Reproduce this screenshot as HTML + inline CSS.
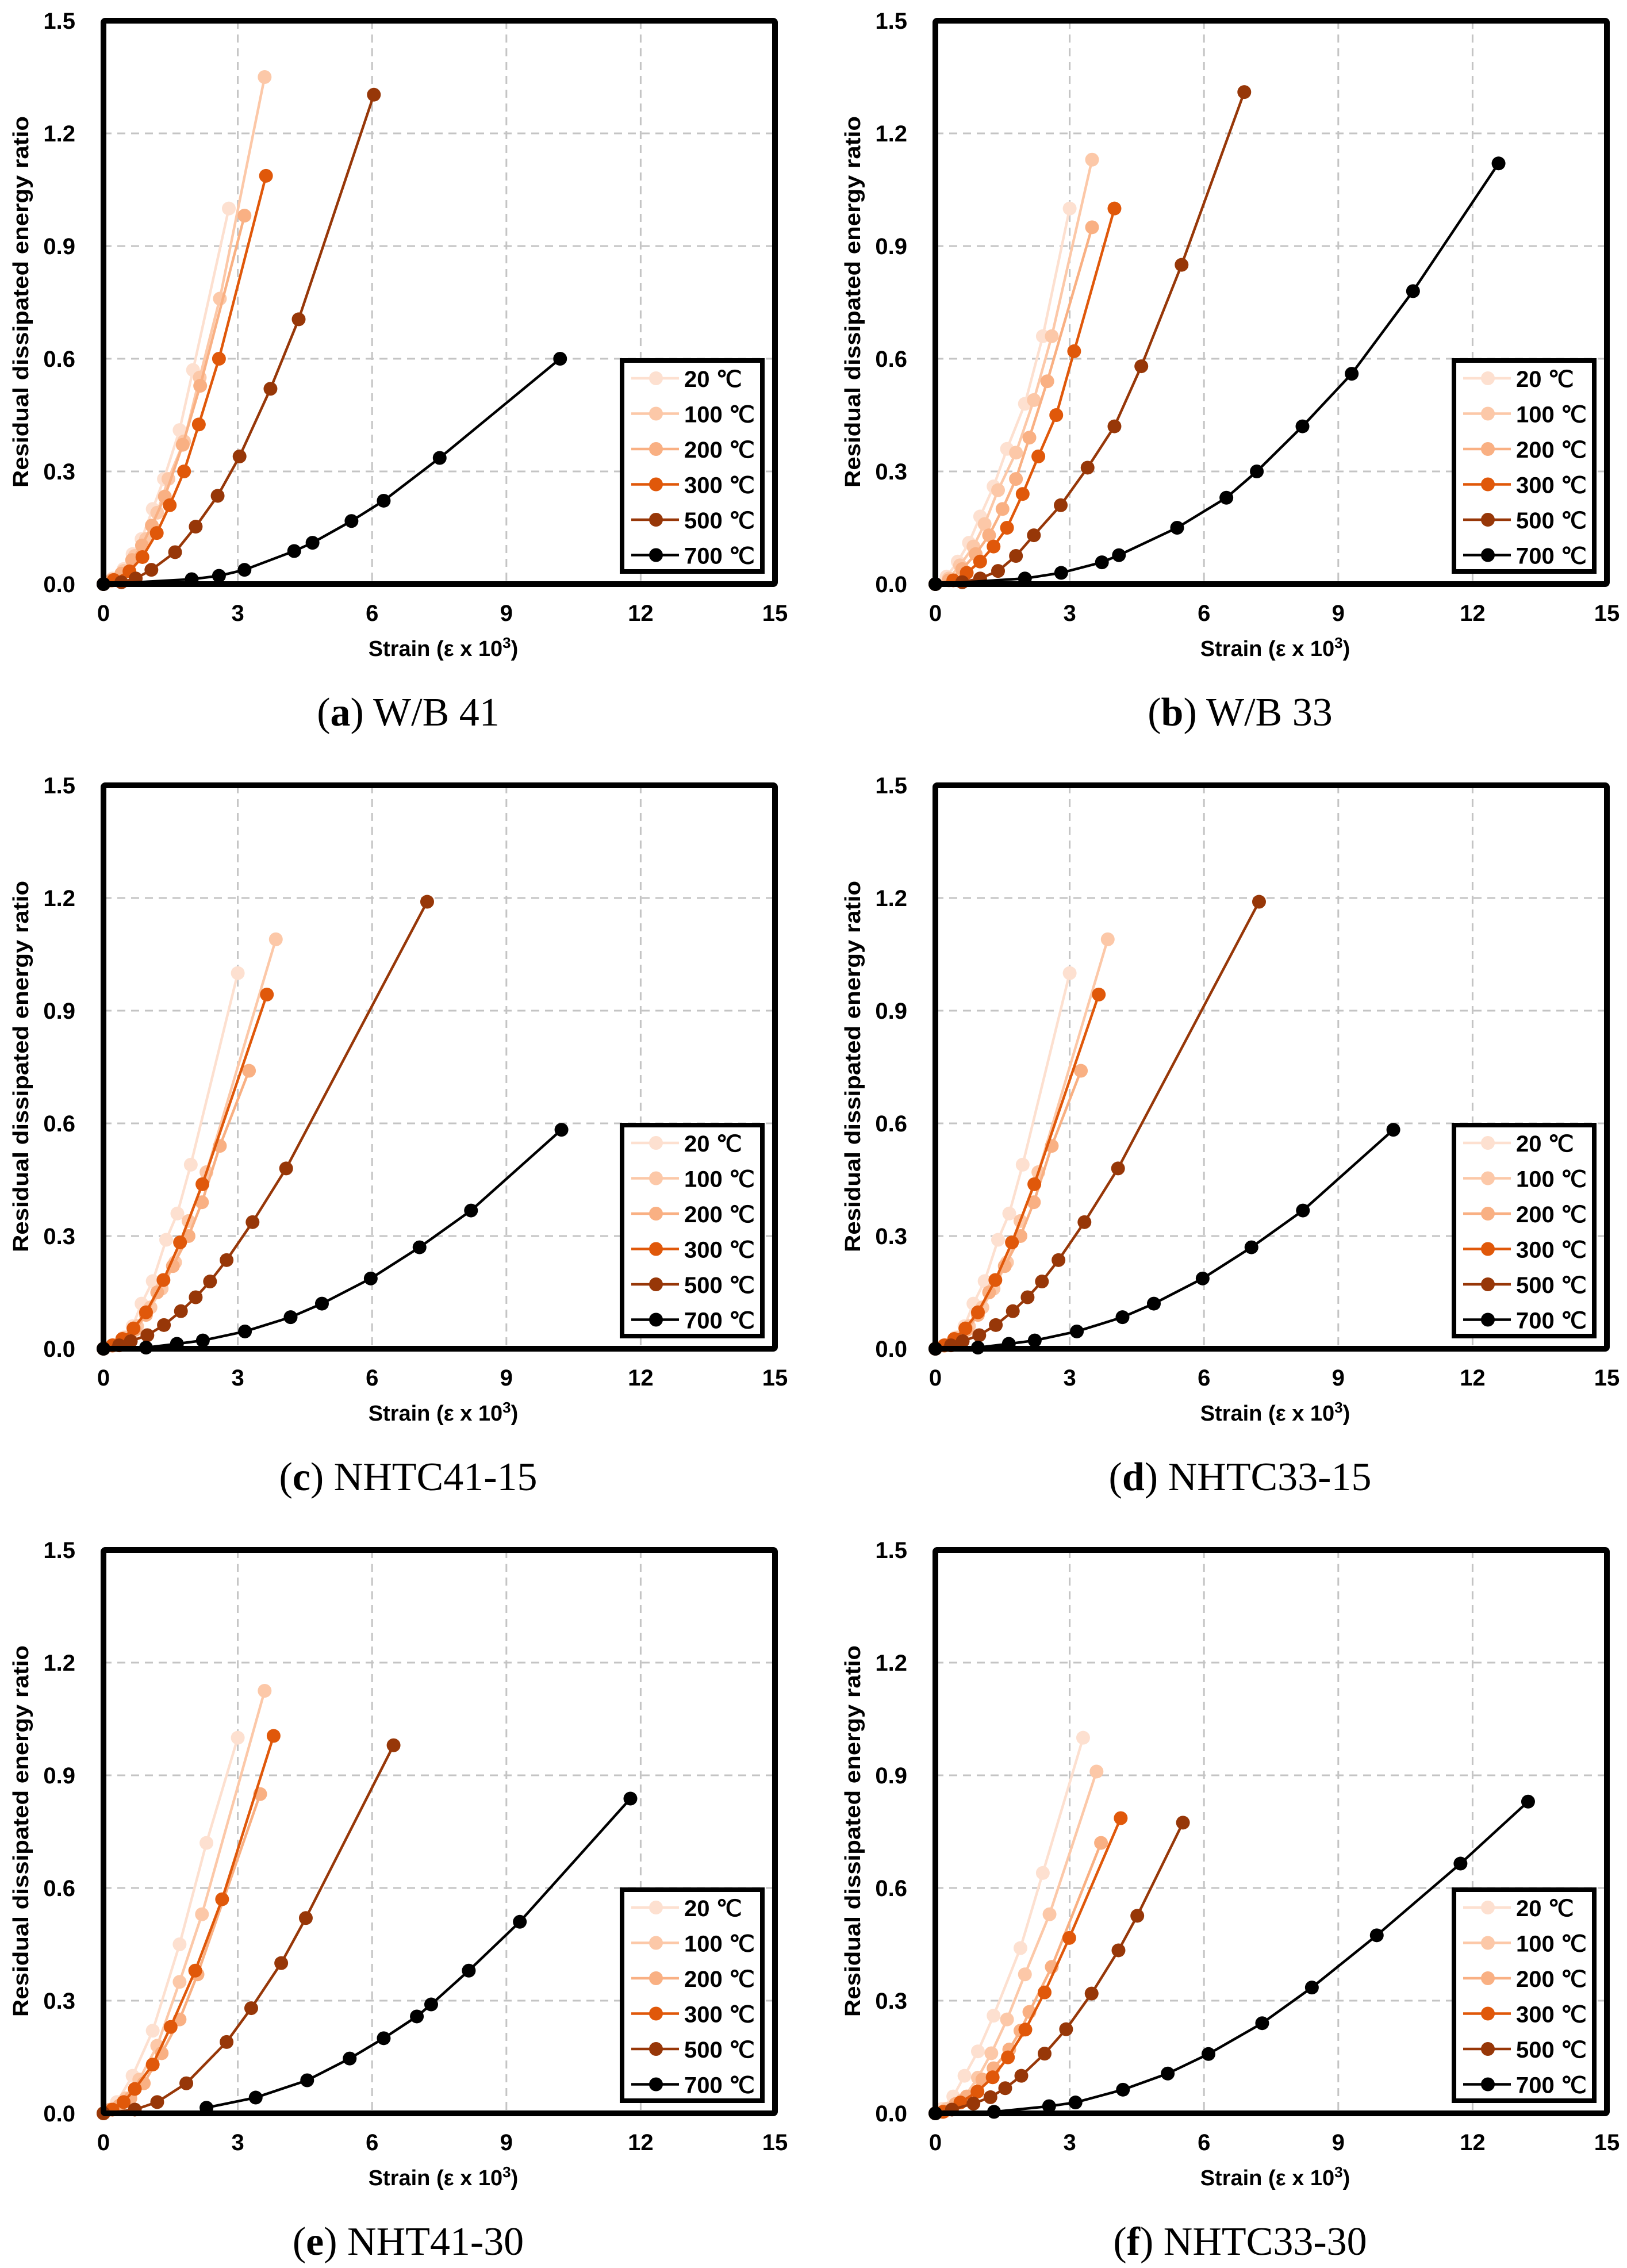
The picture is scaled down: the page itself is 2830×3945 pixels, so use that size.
<!DOCTYPE html>
<html><head><meta charset="utf-8">
<style>
html,body{margin:0;padding:0;background:#fff;}
svg{display:block;}
</style></head>
<body>
<svg id="fig" xmlns="http://www.w3.org/2000/svg" width="2830" height="3945" viewBox="0 0 2830 3945">
<rect x="0" y="0" width="2830" height="3945" fill="#fff"/>
</svg>
<script>
const temps = ["20 ℃","100 ℃","200 ℃","300 ℃","500 ℃","700 ℃"];
const colors = ["#fde0d0","#fcc8a8","#f9b083","#e0580a","#973708","#000000"];
const xTicks = [0,3,6,9,12,15];
const yTicks = [0.0,0.3,0.6,0.9,1.2,1.5];
const yTickLabels = ["0.0","0.3","0.6","0.9","1.2","1.5"];
const captionLetters = ["a","b","c","d","e","f"];
const captionNames = ["W/B 41","W/B 33","NHTC41-15","NHTC33-15","NHT41-30","NHTC33-30"];

// panel (a) W/B 41
const aX20=[0,0.2,0.45,0.65,0.85,1.1,1.35,1.7,2.0,2.8];
const aY20=[0,0.015,0.04,0.08,0.12,0.2,0.28,0.41,0.57,1.0];
const aX100=[0,0.2,0.45,0.7,0.95,1.2,1.45,1.8,2.15,2.6,3.6];
const aY100=[0,0.012,0.035,0.075,0.12,0.19,0.28,0.38,0.55,0.76,1.35];
const aX200=[0,0.17,0.4,0.64,0.86,1.08,1.37,1.77,2.16,3.15];
const aY200=[0,0.009,0.028,0.064,0.103,0.156,0.233,0.371,0.528,0.981];
const aX300=[0,0.23,0.58,0.87,1.19,1.48,1.8,2.13,2.58,3.63];
const aY300=[0,0.011,0.034,0.072,0.136,0.21,0.30,0.425,0.60,1.087];
const aX500=[0,0.4,0.72,1.07,1.6,2.06,2.55,3.04,3.73,4.36,6.04];
const aY500=[0,0.005,0.015,0.038,0.085,0.153,0.235,0.34,0.52,0.705,1.303];
const aX700=[0,1.97,2.58,3.15,4.26,4.67,5.54,6.26,7.51,10.2];
const aY700=[0,0.013,0.022,0.038,0.088,0.11,0.168,0.222,0.336,0.60];
// panel (b) W/B 33
const bX20=[0,0.25,0.5,0.75,1.0,1.3,1.6,2.0,2.4,3.0];
const bY20=[0,0.02,0.06,0.11,0.18,0.26,0.36,0.48,0.66,1.0];
const bX100=[0,0.3,0.55,0.85,1.1,1.4,1.8,2.2,2.6,3.5];
const bY100=[0,0.015,0.05,0.1,0.16,0.25,0.35,0.49,0.66,1.13];
const bX200=[0,0.3,0.6,0.9,1.2,1.5,1.8,2.1,2.5,3.5];
const bY200=[0,0.01,0.04,0.08,0.13,0.2,0.28,0.39,0.54,0.95];
const bX300=[0,0.4,0.7,1.0,1.3,1.6,1.95,2.3,2.7,3.1,4.0];
const bY300=[0,0.01,0.03,0.06,0.1,0.15,0.24,0.34,0.45,0.62,1.0];
const bX500=[0,0.6,1.0,1.4,1.8,2.2,2.8,3.4,4.0,4.6,5.5,6.9];
const bY500=[0,0.005,0.015,0.035,0.075,0.13,0.21,0.31,0.42,0.58,0.85,1.31];
const bX700=[0,2.0,2.81,3.72,4.1,5.4,6.5,7.18,8.2,9.3,10.67,12.58];
const bY700=[0,0.015,0.03,0.058,0.077,0.15,0.23,0.30,0.42,0.56,0.78,1.12];
// panel (c)/(d) NHTC-15
const cX20=[0,0.2,0.45,0.65,0.85,1.1,1.4,1.65,1.95,3.0];
const cY20=[0,0.01,0.03,0.06,0.12,0.18,0.29,0.36,0.49,1.0];
const cX100=[0,0.25,0.5,0.75,1.05,1.3,1.6,1.9,2.3,3.85];
const cY100=[0,0.01,0.03,0.06,0.11,0.16,0.23,0.34,0.47,1.09];
const cX200=[0,0.2,0.45,0.7,0.95,1.2,1.55,1.9,2.2,2.6,3.25];
const cY200=[0,0.008,0.025,0.05,0.09,0.15,0.22,0.3,0.39,0.54,0.74];
const cX300=[0,0.2,0.42,0.67,0.95,1.34,1.71,2.21,3.65];
const cY300=[0,0.009,0.026,0.054,0.097,0.183,0.283,0.438,0.943];
const cX500=[0,0.35,0.61,0.98,1.35,1.73,2.06,2.38,2.75,3.33,4.08,7.23];
const cY500=[0,0.009,0.02,0.036,0.063,0.1,0.137,0.179,0.236,0.337,0.48,1.19];
const cX700=[0,0.95,1.64,2.22,3.16,4.18,4.88,5.97,7.06,8.21,10.23];
const cY700=[0,0.003,0.013,0.022,0.046,0.084,0.12,0.187,0.27,0.368,0.583];
// panel (e) NHT41-30
const eX20=[0,0.3,0.65,1.1,1.7,2.3,3.0];
const eY20=[0,0.03,0.1,0.22,0.45,0.72,1.0];
const eX100=[0,0.2,0.5,0.8,1.2,1.7,2.2,3.6];
const eY100=[0,0.01,0.04,0.09,0.18,0.35,0.53,1.125];
const eX200=[0,0.15,0.35,0.6,0.9,1.3,1.7,2.1,3.5];
const eY200=[0,0.01,0.02,0.04,0.08,0.16,0.25,0.37,0.85];
const eX300=[0,0.2,0.45,0.7,1.1,1.5,2.05,2.65,3.8];
const eY300=[0,0.01,0.03,0.065,0.13,0.23,0.38,0.57,1.005];
const eX500=[0,0.7,1.2,1.85,2.75,3.3,3.97,4.52,6.48];
const eY500=[0,0.01,0.03,0.08,0.19,0.28,0.40,0.52,0.98];
const eX700=[2.3,3.4,4.55,5.5,6.26,7.0,7.32,8.16,9.3,11.77];
const eY700=[0.015,0.042,0.088,0.146,0.2,0.258,0.29,0.38,0.51,0.838];
// panel (f) NHTC33-30
const fX20=[0,0.15,0.4,0.65,0.95,1.3,1.9,2.4,3.3];
const fY20=[0,0.012,0.045,0.1,0.165,0.26,0.44,0.64,1.0];
const fX100=[0,0.25,0.6,0.95,1.25,1.6,2.0,2.55,3.6];
const fY100=[0,0.012,0.035,0.095,0.16,0.25,0.37,0.53,0.91];
const fX200=[0,0.2,0.45,0.7,1.05,1.3,1.65,1.9,2.1,2.6,3.7];
const fY200=[0,0.005,0.025,0.045,0.09,0.12,0.17,0.22,0.27,0.39,0.72];
const fX300=[0,0.17,0.56,0.94,1.28,1.62,2.01,2.44,2.99,4.14];
const fY300=[0,0.004,0.029,0.058,0.096,0.149,0.223,0.322,0.467,0.786];
const fX500=[0,0.37,0.85,1.23,1.56,1.92,2.44,2.92,3.49,4.09,4.51,5.53];
const fY500=[0,0.01,0.026,0.043,0.067,0.1,0.159,0.224,0.319,0.434,0.526,0.774];
const fX700=[0,1.31,2.54,3.13,4.19,5.19,6.1,7.3,8.41,9.86,11.73,13.24];
const fY700=[0,0.004,0.019,0.029,0.063,0.106,0.158,0.24,0.335,0.474,0.665,0.83];

const panelXs=[[aX20,aX100,aX200,aX300,aX500,aX700],[bX20,bX100,bX200,bX300,bX500,bX700],[cX20,cX100,cX200,cX300,cX500,cX700],[cX20,cX100,cX200,cX300,cX500,cX700],[eX20,eX100,eX200,eX300,eX500,eX700],[fX20,fX100,fX200,fX300,fX500,fX700]];
const panelYs=[[aY20,aY100,aY200,aY300,aY500,aY700],[bY20,bY100,bY200,bY300,bY500,bY700],[cY20,cY100,cY200,cY300,cY500,cY700],[cY20,cY100,cY200,cY300,cY500,cY700],[eY20,eY100,eY200,eY300,eY500,eY700],[fY20,fY100,fY200,fY300,fY500,fY700]];

const NS="http://www.w3.org/2000/svg";
const svg=document.getElementById("fig");
function mk(tag,attrs,parent){const e=document.createElementNS(NS,tag);for(const k in attrs)e.setAttribute(k,attrs[k]);(parent||svg).appendChild(e);return e;}

const colX=[180,1627], rowY=[36,1366,2696], PW=1168, PH=980;
for(let p=0;p<6;p++){
  const L=colX[p%2], T=rowY[Math.floor(p/2)];
  const g=mk("g",{});
  
  
  const sx=v=>L+v/15*PW, sy=v=>T+PH-v/1.5*PH;
  for(let i=1;i<xTicks.length-1;i++){const l=mk("line",{x1:sx(xTicks[i]),x2:sx(xTicks[i]),y1:T,y2:T+PH,stroke:"#c4c4c4","stroke-width":3,"stroke-dasharray":"14,10"},g);
    }
  for(let i=1;i<yTicks.length-1;i++){const l=mk("line",{x1:L,x2:L+PW,y1:sy(yTicks[i]),y2:sy(yTicks[i]),stroke:"#c4c4c4","stroke-width":3,"stroke-dasharray":"14,10"},g);
    }
  xTicks.forEach(v=>{const t=mk("text",{x:sx(v),y:T+PH+64,"text-anchor":"middle","font-family":"Liberation Sans, sans-serif","font-weight":"bold","font-size":40},g);t.textContent=String(v);
    });
  yTicks.forEach((v,i)=>{const t=mk("text",{x:L-49,y:sy(v)+14,"text-anchor":"end","font-family":"Liberation Sans, sans-serif","font-weight":"bold","font-size":40},g);t.textContent=yTickLabels[i];
    });
  const xt=mk("text",{x:L+591,y:T+1105,"text-anchor":"middle","font-family":"Liberation Sans, sans-serif","font-weight":"bold","font-size":38},g);
  xt.innerHTML='Strain (ε x 10<tspan dy="-14" font-size="26">3</tspan><tspan dy="14">)</tspan>';
  
  const yt=mk("text",{x:0,y:0,"text-anchor":"middle","font-family":"Liberation Sans, sans-serif","font-weight":"bold","font-size":38,textLength:646,lengthAdjust:"spacingAndGlyphs",transform:`translate(${L-131},${T+489}) rotate(-90)`},g);
  yt.textContent="Residual dissipated energy ratio";
  
  for(let s=0;s<6;s++){
    const xs=panelXs[p][s], ys=panelYs[p][s];
    const pts=xs.map((x,i)=>sx(x)+","+sy(ys[i])).join(" ");
    const pl=mk("polyline",{points:pts,fill:"none",stroke:colors[s],"stroke-width":4.5,"stroke-linejoin":"round"},g);
    
    
    xs.forEach((x,i)=>{const c=mk("circle",{cx:sx(x),cy:sy(ys[i]),r:12,fill:colors[s]},g);
      
      });
  }
  const fr=mk("rect",{x:L,y:T,width:PW,height:PH,fill:"none",stroke:"#000","stroke-width":10,rx:3},g);
  
  const lg=mk("g",{},g);
  
  
  mk("rect",{x:L+902,y:T+591,width:244,height:367,fill:"#fff",stroke:"#000","stroke-width":8},lg);
  for(let s=0;s<6;s++){
    const yy=T+622+s*61.5;
    const en=mk("g",{},lg);
    
    
    mk("line",{x1:L+918,x2:L+1001,y1:yy,y2:yy,stroke:colors[s],"stroke-width":4.5},en);
    mk("circle",{cx:L+961,cy:yy,r:12,fill:colors[s]},en);
    const t=mk("text",{x:L+1010,y:yy+15,"font-family":"Liberation Sans, sans-serif","font-weight":"bold","font-size":40},en);
    t.textContent=temps[s];
  }
  const cap=mk("text",{x:L+530,y:T+1226,"text-anchor":"middle","font-family":"Liberation Serif, serif","font-size":70},g);
  cap.innerHTML='(<tspan font-weight="bold">'+captionLetters[p]+'</tspan>) '+captionNames[p];
  
}
</script>
</body></html>
